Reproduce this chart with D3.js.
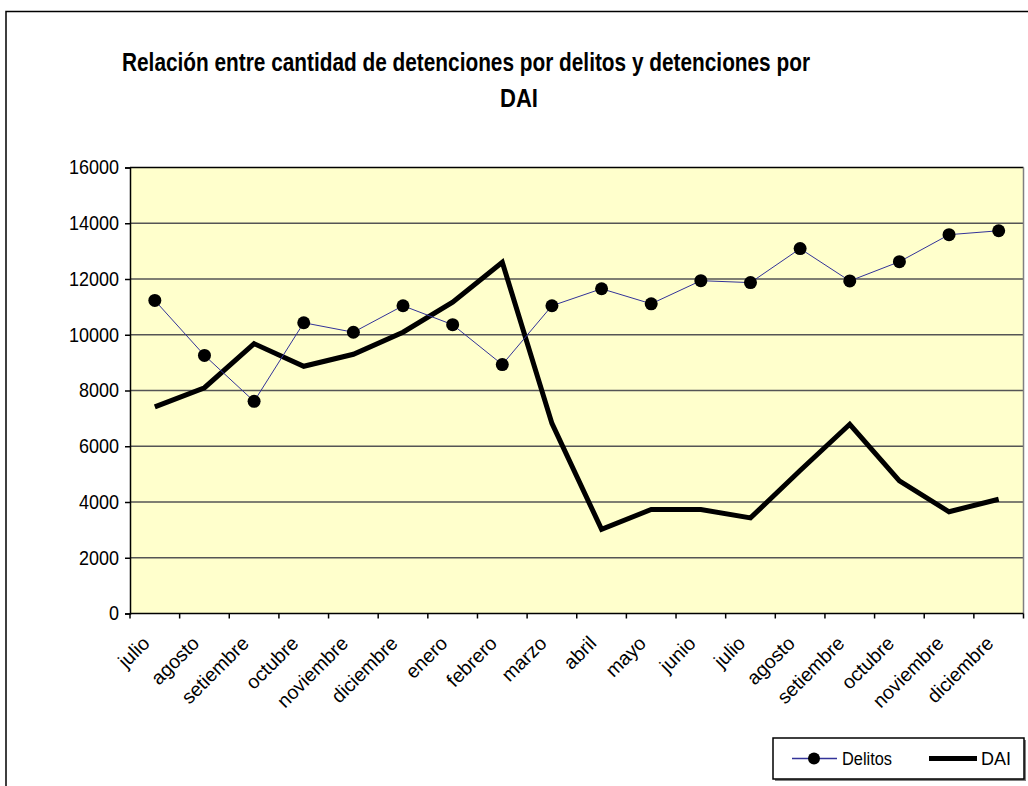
<!DOCTYPE html>
<html>
<head>
<meta charset="utf-8">
<script src="https://cdn.jsdelivr.net/npm/d3@7"></script>
<style>
  html, body { margin: 0; padding: 0; background: #fff; }
  svg { display: block; }
  text { font-family: "Liberation Sans", Arial, sans-serif; fill: #000; }
</style>
</head>
<body>
<svg id="chart" width="1028" height="786"></svg>
<script>
const months = ["julio","agosto","setiembre","octubre","noviembre","diciembre","enero","febrero","marzo","abril","mayo","junio","julio","agosto","setiembre","octubre","noviembre","diciembre"];
const delitos = [11230, 9260, 7610, 10430, 10090, 11040, 10360, 8930, 11040, 11650, 11110, 11940, 11870, 13090, 11930, 12620, 13590, 13730];
const dai = [7410, 8100, 9680, 8870, 9300, 10090, 11170, 12600, 6820, 3020, 3730, 3730, 3430, 5130, 6790, 4760, 3650, 4100];
const yTicks = [0, 2000, 4000, 6000, 8000, 10000, 12000, 14000, 16000];
const titleLine1 = "Relación entre cantidad de detenciones por delitos y detenciones por";
const titleLine2 = "DAI";
const seriesNames = ["Delitos", "DAI"];

const svg = d3.select("#chart");
const L = 130, R = 1023.5, T = 167.5, B = 613.5;

// outer chart border
svg.append("rect").attr("x", 6).attr("y", 11.5).attr("width", 1040).attr("height", 800)
  .attr("fill", "none").attr("stroke", "#000").attr("stroke-width", 1.5);

// title
svg.append("text").attr("x", 122).attr("y", 71)
  .attr("font-size", 25).attr("font-weight", "bold")
  .attr("textLength", 688).attr("lengthAdjust", "spacingAndGlyphs")
  .text(titleLine1);
svg.append("text").attr("x", 500).attr("y", 106.5)
  .attr("font-size", 25).attr("font-weight", "bold")
  .attr("textLength", 38).attr("lengthAdjust", "spacingAndGlyphs")
  .text(titleLine2);

const x = d3.scaleBand().domain(d3.range(months.length)).range([L, R]);
const y = d3.scaleLinear().domain([0, 16000]).range([B, T]);

// plot background
svg.append("rect").attr("x", L).attr("y", T).attr("width", R - L).attr("height", B - T)
  .attr("fill", "#FFFFCC");

// gridlines
svg.append("g").selectAll("line").data(yTicks.filter(d => d > 0 && d < 16000)).join("line")
  .attr("x1", L).attr("x2", R).attr("y1", d => y(d)).attr("y2", d => y(d))
  .attr("stroke", "#555").attr("stroke-width", 1.5);

// plot border (top, right)
svg.append("line").attr("x1", L).attr("x2", R).attr("y1", T).attr("y2", T).attr("stroke", "#000").attr("stroke-width", 1.5);
svg.append("line").attr("x1", R).attr("x2", R).attr("y1", T).attr("y2", B).attr("stroke", "#808080").attr("stroke-width", 1.5);

// y axis
const yAxis = d3.axisLeft(y).tickValues(yTicks).tickSize(5).tickPadding(6).tickFormat(d3.format("d"));
const gy = svg.append("g").attr("transform", `translate(${L},0)`).call(yAxis);
gy.select(".domain").attr("stroke", "#000").attr("stroke-width", 1.5);
gy.selectAll(".tick line").attr("stroke", "#000").attr("stroke-width", 1.5);
gy.selectAll(".tick text").attr("font-size", 18).attr("font-family", "Liberation Sans, Arial, sans-serif")
  .attr("fill", "#000").attr("transform", "scale(1,1.12)");

// x axis: ticks at band edges
const gx = svg.append("g").attr("transform", `translate(0,${B})`);
gx.append("line").attr("x1", L).attr("x2", R).attr("stroke", "#000").attr("stroke-width", 1.5);
const edges = d3.range(months.length + 1).map(i => i < months.length ? x(i) : R);
gx.selectAll("line.tk").data(edges).join("line").attr("class", "tk")
  .attr("x1", d => d).attr("x2", d => d).attr("y1", 0).attr("y2", 5)
  .attr("stroke", "#000").attr("stroke-width", 1.5);
gx.selectAll("text").data(months).join("text")
  .attr("transform", (d, i) => `translate(${x(i) + x.bandwidth() / 2 - 4},${31}) rotate(-45)`)
  .attr("text-anchor", "end").attr("font-size", 19.5)
  .text(d => d);

// series
const cx = i => x(i) + x.bandwidth() / 2;
const line = d3.line().x((d, i) => cx(i)).y(d => y(d));

svg.append("path").datum(dai).attr("d", line)
  .attr("fill", "none").attr("stroke", "#000").attr("stroke-width", 5).attr("stroke-linejoin", "miter");

svg.append("path").datum(delitos).attr("d", line)
  .attr("fill", "none").attr("stroke", "#333399").attr("stroke-width", 1);
svg.append("g").selectAll("circle").data(delitos).join("circle")
  .attr("cx", (d, i) => cx(i)).attr("cy", d => y(d)).attr("r", 6.5)
  .attr("fill", "#000");

// legend
const lg = svg.append("g");
lg.append("rect").attr("x", 775).attr("y", 740).attr("width", 251).attr("height", 41).attr("fill", "#808080");
lg.append("rect").attr("x", 773).attr("y", 738).attr("width", 251).attr("height", 41)
  .attr("fill", "#fff").attr("stroke", "#000").attr("stroke-width", 1.5);
lg.append("line").attr("x1", 792).attr("x2", 837).attr("y1", 758.5).attr("y2", 758.5)
  .attr("stroke", "#333399").attr("stroke-width", 1.5);
lg.append("circle").attr("cx", 814).attr("cy", 758.5).attr("r", 6).attr("fill", "#000");
lg.append("text").attr("x", 842).attr("y", 765).attr("font-size", 18).attr("textLength", 50)
  .attr("lengthAdjust", "spacingAndGlyphs").text(seriesNames[0]);
lg.append("line").attr("x1", 929).attr("x2", 977).attr("y1", 758.5).attr("y2", 758.5)
  .attr("stroke", "#000").attr("stroke-width", 5);
lg.append("text").attr("x", 981).attr("y", 765).attr("font-size", 18).attr("textLength", 30)
  .attr("lengthAdjust", "spacingAndGlyphs").text(seriesNames[1]);
</script>
</body>
</html>
